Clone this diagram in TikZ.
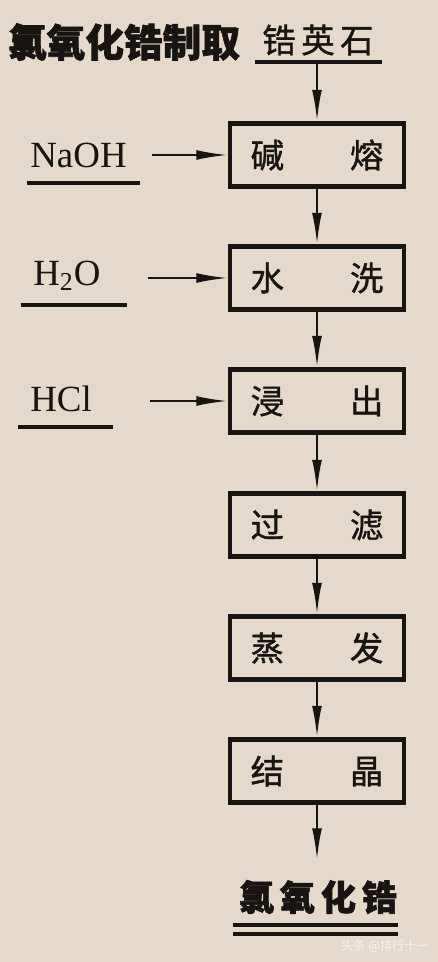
\documentclass[tikz,border=0pt]{standalone}
\usepackage{fontspec}
\setmainfont{Liberation Serif}
\newfontfamily\cjk{Noto Sans CJK SC}[BoldFeatures={FakeBold=1.6}]
\newfontfamily\cjkmid{Noto Sans CJK SC}[FakeBold=1.2]
\usetikzlibrary{arrows.meta, positioning}
\definecolor{paper}{RGB}{228,217,203}
\definecolor{ink}{RGB}{24,20,18}
\definecolor{mark}{RGB}{246,243,239}

\tikzset{
  stepbox/.style={draw=ink, text=ink, line width=2.3pt, minimum width=3.48cm, minimum height=1.26cm, inner sep=0pt, font=\cjkmid\fontsize{19}{19}\selectfont},
  feed/.style={text=ink, inner sep=0pt, font=\fontsize{21}{21}\selectfont},
  flow/.style={draw=ink, line width=1.3pt, -{Latex[length=18pt,width=5.6pt]}},
  uline/.style={draw=ink, line width=2.5pt},
}

\begin{document}
\begin{tikzpicture}[x=0.02cm, y=-0.02cm]
    \fill[paper] (0,0) rectangle (438,962);
    \useasboundingbox (0,0) rectangle (438,962);

    % title
    \node[text=ink, inner sep=0pt, font=\cjk\bfseries\fontsize{22}{22}\selectfont] (title) at (124,42) {氯氧化锆制取};

    % raw material
    \node[text=ink, inner sep=0pt, font=\cjkmid\fontsize{19}{19}\selectfont] (zircon) at (318,40) {锆\,英\,石};
    \draw[uline] (255,62) -- (382,62);
    \coordinate (zin) at (317,62);

    % process steps
    \node[stepbox] (melt) at (317,155) {碱\hspace{1.32cm}熔};
    \node[stepbox] (wash) at (317,278) {水\hspace{1.32cm}洗};
    \node[stepbox] (leach) at (317,401) {浸\hspace{1.32cm}出};
    \node[stepbox] (filter) at (317,525) {过\hspace{1.32cm}滤};
    \node[stepbox] (evap) at (317,648) {蒸\hspace{1.32cm}发};
    \node[stepbox] (cryst) at (317,771) {结\hspace{1.32cm}晶};

    % reagents
    \node[feed, anchor=west] (naoh) at (30,155) {NaOH};
    \node[feed, anchor=west] (water) at (33,276) {H\textsubscript{2}O};
    \node[feed, anchor=west] (hcl) at (30,399) {HCl};
    \draw[uline] (27,183) -- (140,183);
    \draw[uline] (21,305) -- (127,305);
    \draw[uline] (18,427) -- (113,427);
    \coordinate (in1) at (152,155);
    \coordinate (in2) at (148,278);
    \coordinate (in3) at (150,401);

    % product
    \coordinate (pend) at (317,860);
    \node[text=ink, inner sep=0pt, font=\cjk\bfseries\fontsize{20}{20}\selectfont] (prod) at (318,897) {氯\,氧\,化\,锆};
    \draw[uline, line width=2.4pt] (233,925) -- (398,925);
    \draw[uline, line width=2.4pt] (233,934) -- (398,934);

    \node[text=mark, inner sep=0pt, font=\cjk\fontsize{7}{7}\selectfont] (wm) at (385,946) {头条 @排行十一};

    \draw[flow] (zin) -- (melt);
    \draw[flow] (melt) -- (wash);
    \draw[flow] (wash) -- (leach);
    \draw[flow] (leach) -- (filter);
    \draw[flow] (filter) -- (evap);
    \draw[flow] (evap) -- (cryst);
    \draw[flow] (cryst) -- (pend);
    \draw[flow] (in1) -- (melt);
    \draw[flow] (in2) -- (wash);
    \draw[flow] (in3) -- (leach);
\end{tikzpicture}
\end{document}
